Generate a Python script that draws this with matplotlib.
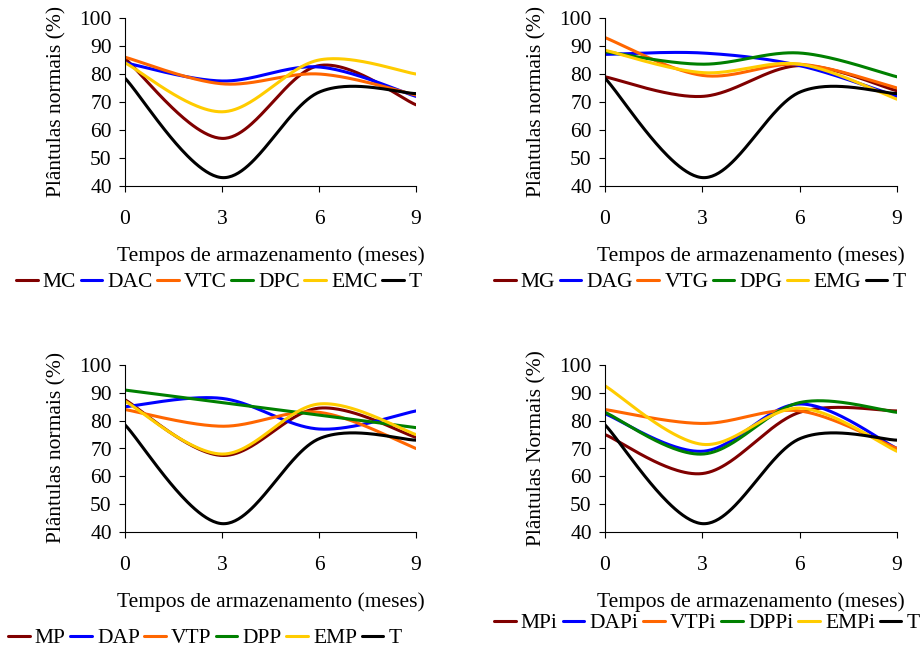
import numpy as np
import matplotlib
matplotlib.use('Agg')
import matplotlib.pyplot as plt

plt.rcParams['font.family'] = ['Liberation Serif', 'DejaVu Serif']

meses = [0, 3, 6, 9]
cores = ['#800000', '#0000FF', '#FF6600', '#008000', '#FFCC00', '#000000']

T = [78.5, 43, 73.5, 73]

# painel C
nomes_c = ['MC', 'DAC', 'VTC', 'DPC', 'EMC', 'T']
MC = [85.5, 57, 83, 69]
DAC = [84, 77.5, 82.5, 72]
VTC = [86, 76.5, 80, 72.5]
DPC = [np.nan, np.nan, np.nan, np.nan]
EMC = [84, 66.5, 85, 80]

# painel G
nomes_g = ['MG', 'DAG', 'VTG', 'DPG', 'EMG', 'T']
MG = [79, 72, 83, 74]
DAG = [87, 87.5, 83, 72]
VTG = [93, 79.5, 83.5, 75]
DPG = [88, 83.5, 87.5, 79]
EMG = [88.5, 80.5, 83.5, 71]

# painel P
nomes_p = ['MP', 'DAP', 'VTP', 'DPP', 'EMP', 'T']
MP = [87.5, 67.5, 84.5, 74]
DAP = [85, 88, 77, 83.5]
VTP = [84, 78, 83, 70]
DPP = [91, 86.5, 82, 77.5]
EMP = [87, 68, 86, 75]

# painel Pi
nomes_pi = ['MPi', 'DAPi', 'VTPi', 'DPPi', 'EMPi', 'T']
MPi = [75, 61, 83, 83.5]
DAPi = [82.5, 69, 86, 70]
VTPi = [84, 79, 83.5, 70]
DPPi = [83, 68, 86.5, 83]
EMPi = [92.5, 71.5, 84.5, 69]

FS = 15.5


def suavizar(x, y, n=60):
    # curva suave tipo Excel (bezier com tangentes de Catmull-Rom)
    p = np.column_stack([x, y]).astype(float)
    pts = []
    for i in range(len(p) - 1):
        p0 = p[max(i - 1, 0)]
        p1 = p[i]
        p2 = p[i + 1]
        p3 = p[min(i + 2, len(p) - 1)]
        c1 = p1 + (p2 - p0) / 6
        c2 = p2 - (p3 - p1) / 6
        t = np.linspace(0, 1, n)[:, None]
        seg = ((1 - t) ** 3) * p1 + 3 * ((1 - t) ** 2) * t * c1 + 3 * (1 - t) * t ** 2 * c2 + t ** 3 * p2
        pts.append(seg)
    pts = np.vstack(pts)
    return pts[:, 0], pts[:, 1]


W, H = 921, 649
fig = plt.figure(figsize=(W / 100, H / 100), dpi=100)


def eixo(l, t, r, b):
    return fig.add_axes([l / W, 1 - b / H, (r - l) / W, (b - t) / H])


def painel(ax, series, nomes, ylabel, leg_x, leg_y, espaco=0.2):
    linhas = []
    for s, nome, c in zip(series, nomes, cores):
        xs, ys = suavizar(meses, s)
        ln, = ax.plot(xs, ys, color=c, lw=2.2, label=nome, solid_capstyle='round')
        linhas.append(ln)
    ax.set_xlim(0, 9)
    ax.set_ylim(40, 100)
    ax.set_xticks(meses)
    ax.set_yticks(range(40, 101, 10))
    for sp in ['top', 'right']:
        ax.spines[sp].set_visible(False)
    ax.tick_params(axis='x', direction='out', length=4.5, pad=13, labelsize=FS)
    ax.tick_params(axis='y', direction='out', length=4.5, pad=5, labelsize=FS)
    ax.set_xlabel('Tempos de armazenamento (meses)', fontsize=FS, labelpad=12)
    ax.set_ylabel(ylabel, fontsize=FS)
    ax.yaxis.set_label_coords(-0.20, 0.505)
    fig.legend(handles=linhas, loc='center left', bbox_to_anchor=(leg_x / W, 1 - leg_y / H),
               ncol=6, frameon=False, fontsize=FS, handlelength=1.0, handletextpad=0.25,
               columnspacing=espaco, borderaxespad=0, borderpad=0)


ax1 = eixo(125, 18, 416, 186)
painel(ax1, [MC, DAC, VTC, DPC, EMC, T], nomes_c, 'Plântulas normais (%)', 16, 282)
ax2 = eixo(605, 18, 897, 186)
painel(ax2, [MG, DAG, VTG, DPG, EMG, T], nomes_g, 'Plântulas normais (%)', 494, 282)
ax3 = eixo(125, 365, 416, 532)
painel(ax3, [MP, DAP, VTP, DPP, EMP, T], nomes_p, 'Plântulas normais (%)', 8, 638)
ax4 = eixo(605, 365, 897, 532)
painel(ax4, [MPi, DAPi, VTPi, DPPi, EMPi, T], nomes_pi, 'Plântulas Normais (%)', 494, 623, 0.22)

fig.savefig('out.png', dpi=100)
